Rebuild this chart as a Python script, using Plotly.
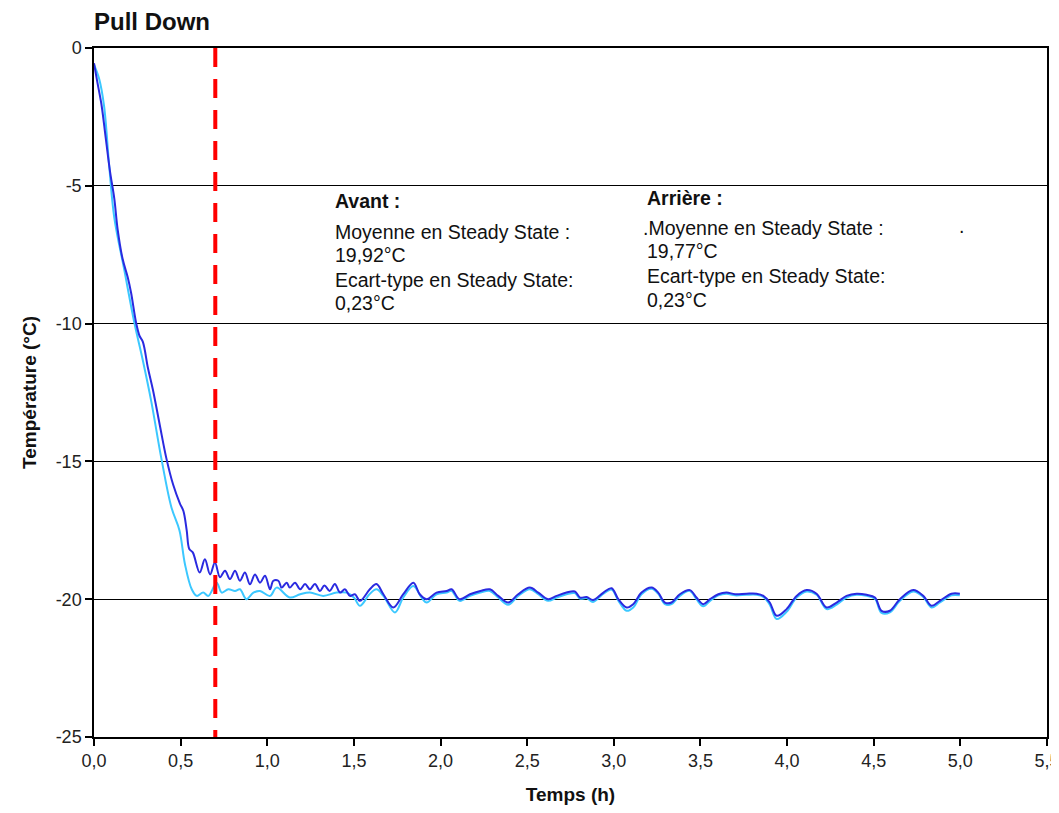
import plotly.graph_objects as go

# ---- data ----
dark_t = [0, 0.019, 0.043, 0.068, 0.093, 0.117, 0.136, 0.165, 0.195, 0.214, 0.243, 0.263, 0.282,
          0.311, 0.34, 0.379, 0.418, 0.457, 0.496, 0.516, 0.535, 0.55, 0.57, 0.61, 0.64, 0.67,
          0.698, 0.727, 0.756, 0.785, 0.814, 0.842, 0.871, 0.9, 0.929, 0.958, 0.987, 1.016,
          1.035, 1.064, 1.083, 1.112, 1.13, 1.16, 1.19, 1.218, 1.246, 1.275, 1.304, 1.33, 1.36,
          1.39, 1.42, 1.448, 1.477, 1.506, 1.535, 1.592, 1.63, 1.67, 1.727, 1.785, 1.843, 1.88,
          1.92, 1.977, 2.035, 2.064, 2.11, 2.17, 2.23, 2.285, 2.333, 2.39, 2.448, 2.515, 2.564,
          2.62, 2.67, 2.727, 2.775, 2.805, 2.843, 2.88, 2.94, 2.987, 3.026, 3.074, 3.112, 3.16,
          3.218, 3.256, 3.295, 3.333, 3.381, 3.439, 3.477, 3.516, 3.555, 3.603, 3.65, 3.7, 3.766,
          3.824, 3.863, 3.9, 3.94, 3.997, 4.055, 4.113, 4.17, 4.228, 4.286, 4.343, 4.401, 4.459,
          4.507, 4.545, 4.593, 4.651, 4.728, 4.786, 4.834, 4.882, 4.949, 4.997]
dark_T = [-0.55, -1.23, -2.05, -3.28, -4.5, -5.46, -6.56, -7.65, -8.33, -8.88, -9.97, -10.45, -10.66,
          -11.6, -12.4, -13.66, -14.9, -15.85, -16.53, -16.8, -17.5, -18.18, -18.3, -19.03, -18.55, -19.1,
          -18.67, -19.2, -18.97, -19.27, -18.97, -19.33, -19.03, -19.46, -19.1, -19.4, -19.15, -19.64,
          -19.33, -19.33, -19.58, -19.4, -19.58, -19.4, -19.64, -19.45, -19.64, -19.45, -19.7, -19.5, -19.7,
          -19.45, -19.76, -19.64, -19.88, -19.82, -20.06, -19.64, -19.45, -19.82, -20.3, -19.82, -19.4, -19.82,
          -20.0, -19.76, -19.7, -19.64, -20.0, -19.82, -19.7, -19.64, -19.88, -20.12, -19.82, -19.58, -19.76,
          -20.0, -19.88, -19.76, -19.72, -19.94, -19.92, -20.03, -19.76, -19.6, -20.0, -20.3, -20.18, -19.76,
          -19.58, -19.76, -20.12, -20.12, -19.82, -19.67, -19.94, -20.18, -20.0, -19.82, -19.76, -19.82, -19.8,
          -19.8, -19.88, -20.12, -20.6, -20.36, -19.88, -19.67, -19.8, -20.3, -20.12, -19.88, -19.8, -19.84,
          -19.94, -20.42, -20.42, -20.0, -19.67, -19.88, -20.24, -20.06, -19.8, -19.8]

cyan_t = [0, 0.029, 0.058, 0.088, 0.117, 0.175, 0.233, 0.282, 0.331, 0.389, 0.447, 0.493, 0.525,
          0.564, 0.593, 0.63, 0.66, 0.708, 0.737, 0.775, 0.814, 0.842, 0.88, 0.92, 0.958, 1.016,
          1.054, 1.13, 1.19, 1.246, 1.323, 1.4, 1.458, 1.5, 1.535, 1.59, 1.63, 1.67, 1.737, 1.785,
          1.843, 1.89, 1.92, 1.977, 2.035, 2.064, 2.11, 2.17, 2.23, 2.285, 2.333, 2.39, 2.448,
          2.515, 2.564, 2.62, 2.67, 2.727, 2.775, 2.805, 2.843, 2.88, 2.94, 2.987, 3.026, 3.074,
          3.112, 3.16, 3.218, 3.256, 3.295, 3.333, 3.381, 3.439, 3.477, 3.516, 3.555, 3.603, 3.65,
          3.7, 3.766, 3.824, 3.863, 3.9, 3.94, 3.997, 4.055, 4.113, 4.17, 4.228, 4.286, 4.343,
          4.401, 4.459, 4.507, 4.545, 4.593, 4.651, 4.728, 4.786, 4.834, 4.882, 4.949, 4.997]
cyan_T = [-0.6, -1.1, -2.1, -4.3, -6.15, -8.06, -9.97, -11.34, -12.84, -14.9, -16.67, -17.5, -18.73,
          -19.64, -19.88, -19.76, -19.88, -19.4, -19.76, -19.64, -19.7, -19.64, -20.0, -19.76, -19.7, -19.88,
          -19.58, -19.94, -19.82, -19.76, -19.88, -19.76, -19.76, -19.94, -20.24, -19.82, -19.64, -19.88, -20.48, -19.94,
          -19.52, -19.94, -20.12, -19.82, -19.76, -19.7, -20.06, -19.88, -19.76, -19.7, -19.94, -20.2, -19.88,
          -19.64, -19.82, -20.06, -19.94, -19.82, -19.78, -19.98, -19.96, -20.1, -19.8, -19.65, -20.05, -20.42,
          -20.3, -19.82, -19.62, -19.8, -20.18, -20.18, -19.88, -19.7, -20.0, -20.26, -20.06, -19.86, -19.8,
          -19.86, -19.84, -19.84, -19.92, -20.2, -20.72, -20.46, -19.94, -19.72, -19.84, -20.36, -20.2, -19.94,
          -19.84, -19.88, -19.98, -20.5, -20.48, -20.06, -19.72, -19.92, -20.3, -20.12, -19.86, -19.86]

marker_t = [0.7, 0.7]          # steady-state start (red dashed line)
marker_T = [0.0, -25.0]

x_ticks = [0, 0.5, 1.0, 1.5, 2.0, 2.5, 3.0, 3.5, 4.0, 4.5, 5.0, 5.5]
x_labels = ["0,0", "0,5", "1,0", "1,5", "2,0", "2,5", "3,0", "3,5", "4,0", "4,5", "5,0", "5,5"]
y_ticks = [0, -5, -10, -15, -20, -25]
y_labels = ["0", "-5", "-10", "-15", "-20", "-25"]

avant_lines = ["Moyenne en Steady State :", "19,92°C", "Ecart-type en Steady State:", "0,23°C"]
arriere_lines = [".Moyenne en Steady State :", "19,77°C", "Ecart-type en Steady State:", "0,23°C"]

FONT = "Liberation Sans, Arial, sans-serif"

# page body has an 8px default margin, so the figure is sized/offset to fit the window exactly
W, H = 1051, 797

fig = go.Figure()
fig.add_trace(go.Scatter(x=cyan_t, y=cyan_T, mode="lines",
                         line=dict(color="#3CC8FF", width=2, shape="spline", smoothing=1.0),
                         showlegend=False, hoverinfo="skip"))
fig.add_trace(go.Scatter(x=dark_t, y=dark_T, mode="lines",
                         line=dict(color="#2A2AE0", width=2, shape="spline", smoothing=1.0),
                         showlegend=False, hoverinfo="skip"))
fig.add_trace(go.Scatter(x=marker_t, y=marker_T, mode="lines",
                         line=dict(color="#FF0000", width=4, dash="19px,12px"),
                         showlegend=False, hoverinfo="skip", cliponaxis=False))

ann = []
ann.append(dict(x=1.38, y=-5.55, text="<b>Avant :</b>"))
for i, s in enumerate(avant_lines):
    ys = [-6.66, -7.5, -8.4, -9.27][i]
    ann.append(dict(x=1.38, y=ys, text=s))
ann.append(dict(x=3.18, y=-5.43, text="<b>Arrière :</b>"))
for i, s in enumerate(arriere_lines):
    ys = [-6.52, -7.35, -8.26, -9.13][i]
    xs = 3.155 if i == 0 else 3.18
    ann.append(dict(x=xs, y=ys, text=s))
ann.append(dict(x=4.98, y=-6.45, text="."))
annotations = []
for a in ann:
    a.update(xref="x", yref="y", xanchor="left", yanchor="middle", showarrow=False,
             font=dict(family=FONT, size=19.5, color="#111111"))
    annotations.append(a)

fig.update_layout(
    width=W, height=H,
    margin=dict(l=86, r=12, t=40, b=68, autoexpand=False),
    paper_bgcolor="white", plot_bgcolor="white",
    title=dict(text="<b>Pull Down</b>", x=86 / W, xanchor="left", y=1 - 14 / H, yanchor="middle",
               font=dict(family=FONT, size=24, color="#111111")),
    annotations=annotations,
    font=dict(family=FONT, color="#111111"),
)
fig.update_xaxes(range=[0, 5.5], tickvals=x_ticks, ticktext=x_labels, automargin=False,
                 ticklabeloverflow="allow",
                 showgrid=False, zeroline=False,
                 showline=True, linecolor="black", linewidth=1.5, mirror=True,
                 ticks="outside", ticklen=7, tickcolor="black", tickwidth=1.5,
                 tickfont=dict(family=FONT, size=18, color="#222222"),
                 title=dict(text="<b>Temps (h)</b>", font=dict(family=FONT, size=19, color="#111111"),
                            standoff=27))
fig.update_yaxes(range=[-25, 0], tickvals=y_ticks, ticktext=y_labels, automargin=False,
                 ticklabeloverflow="allow",
                 showgrid=True, gridcolor="black", gridwidth=1, zeroline=False,
                 showline=True, linecolor="black", linewidth=1.5, mirror=True,
                 ticks="outside", ticklen=7, tickcolor="black", tickwidth=1.5,
                 tickfont=dict(family=FONT, size=18, color="#222222"),
                 title=dict(text="<b>Température (°C)</b>", font=dict(family=FONT, size=19, color="#111111"),
                            standoff=14))

fig.write_html("out.html")
